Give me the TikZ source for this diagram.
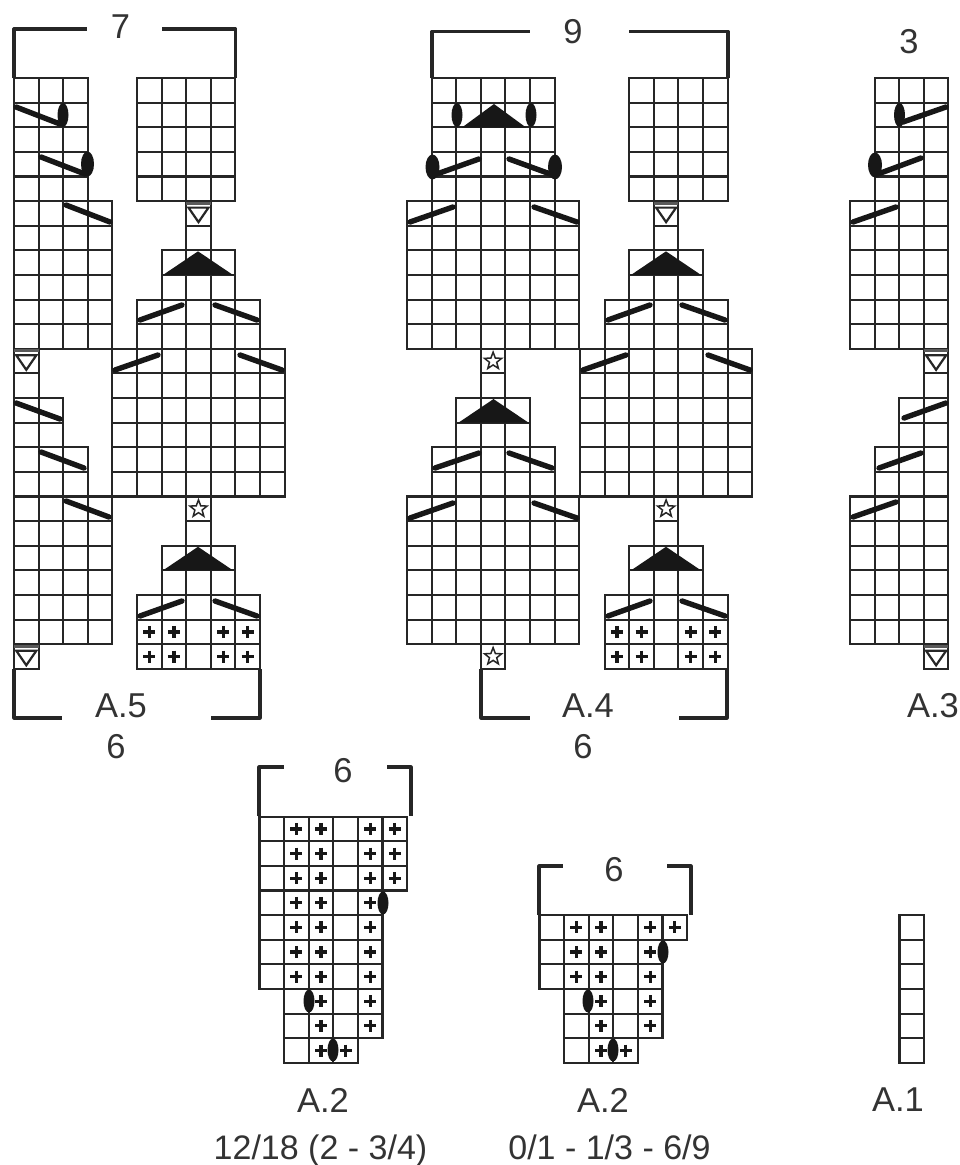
\documentclass[tikz,border=0pt]{standalone}
\usepackage{fontspec}
\setmainfont{Liberation Sans}
\definecolor{ink}{HTML}{262626}
\definecolor{txt}{HTML}{333333}
\newcommand{\blk}[5]{% x0, first col, ncols, first row, nrows
  \pgfmathsetmacro{\bxa}{#1+#2*24.6}
  \pgfmathsetmacro{\bya}{78+#4*24.62}
  \pgfmathsetmacro{\bxb}{\bxa+#3*24.6}
  \pgfmathsetmacro{\byb}{\bya+#5*24.62}
  \foreach \ii in {0,...,#3} {\pgfmathsetmacro{\xx}{\bxa+\ii*24.6}\draw[gridline] (\xx,\bya) -- (\xx,\byb);}
  \foreach \jj in {0,...,#5} {\pgfmathsetmacro{\yy}{\bya+\jj*24.62}\draw[gridline] (\bxa,\yy) -- (\bxb,\yy);}
}
\newcommand{\pluses}[2]{% x0, list of col/row
  \foreach \ii/\jj in {#2} {
    \pgfmathsetmacro{\xx}{#1+(\ii+.5)*24.6}
    \pgfmathsetmacro{\yy}{78+(\jj+.5)*24.62}
    \draw[plusline] (\xx-6,\yy) -- (\xx+6,\yy) (\xx,\yy-6) -- (\xx,\yy+6);
  }
}
\newcommand{\tricell}[2]{% x0 of the cell, row
  \pgfmathsetmacro{\yy}{78+#2*24.62}
  \pgfmathsetmacro{\xx}{#1+12.3}
  \draw[line width=3pt,gray!70!black] (#1,\yy+2) -- (#1+24.6,\yy+2);
  \draw[triline] (\xx-10,\yy+6.5) -- (\xx+10,\yy+6.5) -- (\xx,\yy+21) -- cycle;
}
\newcommand{\starcell}[2]{% x0 of the cell, row
  \pgfmathsetmacro{\yy}{78+(#2+.5)*24.62}
  \pgfmathsetmacro{\xx}{#1+12.3}
  \draw[starline,shift={(\xx,\yy)}] (-90:9) -- (-54:3.8) -- (-18:9) -- (18:3.8) -- (54:9) -- (90:3.8) -- (126:9) -- (162:3.8) -- (198:9) -- (234:3.8) -- cycle;
}
\newcommand{\tip}[2]{% apex x, row
  \pgfmathsetmacro{\yy}{78+#2*24.62}
  \fill[ink!60!black] (#1,\yy+1) -- (#1+35,\yy+24.6) -- (#1-35,\yy+24.6) -- cycle;
}
\begin{document}
\begin{tikzpicture}[x=1pt,y=-1pt,
  gridline/.style={draw=ink,line width=2.1pt,line cap=rect},
  plusline/.style={draw=ink!60!black,line width=3.2pt},
  triline/.style={draw=ink,line width=2.2pt,line join=miter},
  starline/.style={draw=ink,line width=1.5pt,line join=miter},
  slash/.style={draw=ink!60!black,line width=5.4pt,line cap=round},
  oval/.style={fill=ink!60!black},
  bracket/.style={draw=ink,line width=3.2pt,line join=round},
  lbl/.style={text=txt,inner sep=0pt,font=\fontsize{34.5}{40}\selectfont},
  sublbl/.style={text=txt,inner sep=0pt,anchor=base,font=\fontsize{34}{40}\selectfont}]
\useasboundingbox (0,0) rectangle (959,1165);
\fill[white] (0,0) rectangle (959,1165);

% ---------- A.5 ----------
\blk{14}{0}{3}{0}{5}
\blk{14}{0}{4}{5}{6}
\blk{14}{0}{1}{11}{2}
\blk{14}{0}{2}{13}{2}
\blk{14}{0}{3}{15}{2}
\blk{14}{0}{4}{17}{6}
\blk{14}{0}{1}{23}{1}
\tricell{14}{11}
\tricell{14}{23}
\blk{14}{5}{4}{0}{5}
\blk{14}{7}{1}{5}{2}
\blk{14}{6}{3}{7}{2}
\blk{14}{5}{5}{9}{2}
\blk{14}{4}{7}{11}{6}
\blk{14}{7}{1}{17}{2}
\blk{14}{6}{3}{19}{2}
\blk{14}{5}{5}{21}{3}
\tricell{186.2}{5}
\starcell{186.2}{17}
\tip{198}{7}
\tip{198}{19}
\pluses{14}{5/22,6/22,8/22,9/22,5/23,6/23,8/23,9/23}
\draw[slash] (16,107) -- (60,124);
\draw[slash] (41,157) -- (85,174);
\draw[slash] (66,205) -- (110,222);
\fill[oval] (63,115) ellipse (5.5 and 12);
\fill[oval] (87.5,164) ellipse (6.5 and 12.5);
\draw[slash] (140,320) -- (182,305);
\draw[slash] (215,305) -- (257,320);
\draw[slash] (115,370) -- (158,355);
\draw[slash] (240,355) -- (282,370);
\draw[slash] (16,403) -- (60,419);
\draw[slash] (41,452) -- (84,468);
\draw[slash] (66,501) -- (109,517);
\draw[slash] (140,616) -- (182,601);
\draw[slash] (215,601) -- (257,616);
\draw[bracket] (14,78) -- (14,29) -- (87,29);
\draw[bracket] (162,29) -- (235.5,29) -- (235.5,78);
\draw[bracket] (14,669) -- (14,718) -- (62,718);
\draw[bracket] (211,718) -- (260,718) -- (260,669);
\node[lbl] (n7) at (120.5,26.5) {7};
\node[lbl] (a5) at (121,706) {A.5};
\node[lbl] (n6a) at (116,747) {6};

% ---------- A.4 ----------
\blk{407}{1}{5}{0}{5}
\blk{407}{0}{7}{5}{6}
\blk{407}{3}{1}{11}{2}
\blk{407}{2}{3}{13}{2}
\blk{407}{1}{5}{15}{2}
\blk{407}{0}{7}{17}{6}
\blk{407}{3}{1}{23}{1}
\starcell{480.8}{11}
\starcell{480.8}{23}
\tip{493.5}{13}
\fill[ink!60!black] (494,104) -- (526,127.5) -- (462,127.5) -- cycle;
\fill[oval] (457,115) ellipse (5.5 and 12);
\fill[oval] (531,115) ellipse (5.5 and 12);
\fill[oval] (432.5,167) ellipse (7 and 12.5);
\fill[oval] (555,167) ellipse (7 and 12.5);
\draw[slash] (434,175) -- (479,159);
\draw[slash] (509,159) -- (553,175);
\draw[slash] (410,222) -- (453,207);
\draw[slash] (534,207) -- (577,222);
\draw[slash] (435,468) -- (479,453);
\draw[slash] (509,453) -- (552,468);
\draw[slash] (410,518) -- (453,503);
\draw[slash] (534,503) -- (577,518);
\blk{580}{2}{4}{0}{5}
\blk{580}{3}{1}{5}{2}
\blk{580}{2}{3}{7}{2}
\blk{580}{1}{5}{9}{2}
\blk{580}{0}{7}{11}{6}
\blk{580}{3}{1}{17}{2}
\blk{580}{2}{3}{19}{2}
\blk{580}{1}{5}{21}{3}
\tricell{653.8}{5}
\starcell{653.8}{17}
\tip{666}{7}
\tip{666}{19}
\pluses{580}{1/22,2/22,4/22,5/22,1/23,2/23,4/23,5/23}
\draw[slash] (608,320) -- (650,305);
\draw[slash] (682,305) -- (725,320);
\draw[slash] (583,370) -- (626,355);
\draw[slash] (708,355) -- (750,370);
\draw[slash] (608,616) -- (650,601);
\draw[slash] (682,601) -- (725,616);
\draw[bracket] (432,78) -- (432,31.5) -- (530,31.5);
\draw[bracket] (629,31.5) -- (728,31.5) -- (728,78);
\draw[bracket] (481,669) -- (481,718) -- (530,718);
\draw[bracket] (679,718) -- (727,718) -- (727,669);
\node[lbl] (n9) at (573,32) {9};
\node[lbl] (a4) at (588,706) {A.4};
\node[lbl] (n6b) at (583,747) {6};

% ---------- A.3 ----------
\blk{850}{1}{3}{0}{5}
\blk{850}{0}{4}{5}{6}
\blk{850}{3}{1}{11}{2}
\blk{850}{2}{2}{13}{2}
\blk{850}{1}{3}{15}{2}
\blk{850}{0}{4}{17}{6}
\blk{850}{3}{1}{23}{1}
\tricell{923.8}{11}
\tricell{923.8}{23}
\fill[oval] (899.5,115) ellipse (5.5 and 12);
\fill[oval] (875,165) ellipse (7 and 12.5);
\draw[slash] (903,122) -- (946,107);
\draw[slash] (878,174) -- (921,158);
\draw[slash] (853,222) -- (896,207);
\draw[slash] (904,418) -- (946,403);
\draw[slash] (879,468) -- (921,453);
\draw[slash] (853,517) -- (896,502);
\node[lbl] (n3) at (909,42) {3};
\node[lbl] (a3) at (933,706) {A.3};

% ---------- A.2 (first) ----------
\blk{259.5}{0}{6}{30}{3}
\blk{259.5}{0}{5}{33}{4}
\blk{259.5}{1}{4}{37}{2}
\blk{259.5}{1}{3}{39}{1}
\pluses{259.5}{1/30,2/30,4/30,5/30,1/31,2/31,4/31,5/31,1/32,2/32,4/32,5/32,
  1/33,2/33,4/33,1/34,2/34,4/34,1/35,2/35,4/35,1/36,2/36,4/36,2/37,4/37,2/38,4/38,2/39,3/39}
\fill[oval] (383,903) ellipse (5.5 and 11.5);
\fill[oval] (309,1001) ellipse (5.5 and 11.5);
\fill[oval] (333,1050) ellipse (5.5 and 11.5);
\draw[bracket] (259,816) -- (259,767) -- (284,767);
\draw[bracket] (387,767) -- (411,767) -- (411,816);
\node[lbl] (n6c) at (343,771) {6};
\node[lbl] (a2a) at (323,1100) {A.2};
\node[sublbl] (s1) at (320.5,1159.5) {12/18 (2 - 3/4)};

% ---------- A.2 (second) ----------
\blk{539.5}{0}{6}{34}{1}
\blk{539.5}{0}{5}{35}{2}
\blk{539.5}{1}{4}{37}{2}
\blk{539.5}{1}{3}{39}{1}
\pluses{539.5}{1/34,2/34,4/34,5/34,1/35,2/35,4/35,1/36,2/36,4/36,2/37,4/37,2/38,4/38,2/39,3/39}
\fill[oval] (663,952) ellipse (5.5 and 11.5);
\fill[oval] (588,1001) ellipse (5.5 and 11.5);
\fill[oval] (613,1050) ellipse (5.5 and 11.5);
\draw[bracket] (539,915) -- (539,866) -- (563,866);
\draw[bracket] (667,866) -- (691,866) -- (691,915);
\node[lbl] (n6d) at (614,870) {6};
\node[lbl] (a2b) at (603,1100) {A.2};
\node[sublbl] (s2) at (609.5,1159.5) {0/1 - 1/3 - 6/9};

% ---------- A.1 ----------
\blk{899.5}{0}{1}{34}{6}
\node[lbl] (a1) at (898,1100) {A.1};
\end{tikzpicture}
\end{document}
